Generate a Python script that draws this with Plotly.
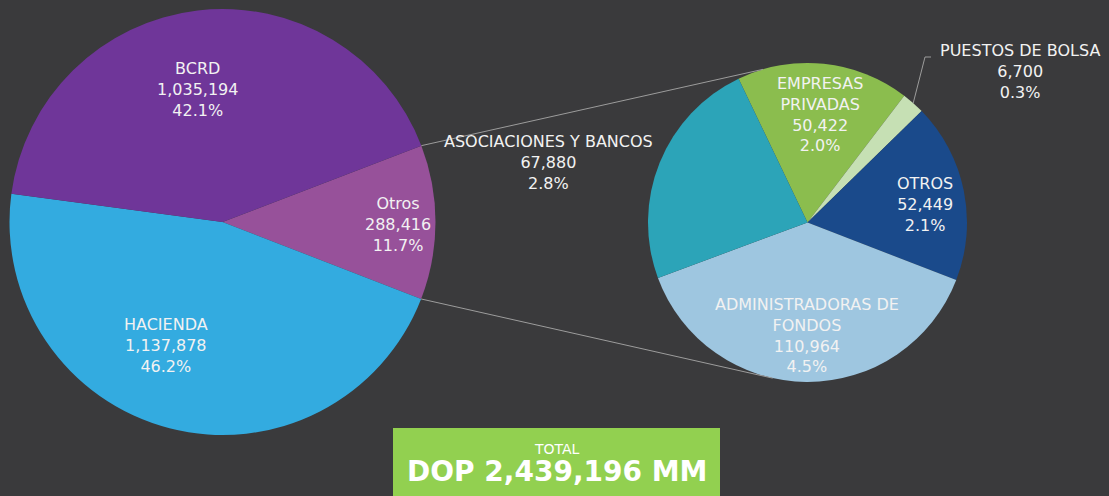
import math
import plotly.graph_objects as go

W, H = 1109, 496

# ---------------- data ----------------
left_labels = ["Otros", "HACIENDA", "BCRD"]
left_values = [288416, 1137878, 1035194]
left_pcts = ["11.7%", "46.2%", "42.1%"]

right_labels = ["EMPRESAS<br>PRIVADAS", "PUESTOS DE BOLSA", "OTROS",
                "ADMINISTRADORAS DE<br>FONDOS", "ASOCIACIONES Y BANCOS"]
right_values = [50422, 6700, 52449, 110964, 67880]
right_pcts = ["2.0%", "0.3%", "2.1%", "4.5%", "2.8%"]

total_label = "TOTAL"
total_text = "DOP 2,439,196 MM"

# ---------------- styles ----------------
BG = "#3A3A3C"
left_colors = ["#97519A", "#33ABE0", "#6F3699"]
right_colors = ["#8BBD4E", "#C6E0B4", "#1A4A8B", "#9EC6E0", "#2CA4B8"]
FONT = "DejaVu Sans"
LINE_COL = "#9C9C9C"

# pie geometry in pixels (centre x, centre y from top, radius)
L_cx, L_cy, L_r = 222.5, 222.0, 213.0
R_cx, R_cy, R_r = 807.5, 222.5, 159.5
L_rot, R_rot = 69, -25.6

# label block centres in pixels
left_label_pos = [(398, 224), (166, 345), (197, 89.5)]
right_label_pos = [(820, 114), (1020, 71), (925, 204), (807, 335.5), (548, 162)]


def px(x):
    return x / W


def py(y):
    return 1 - y / H


def dom(cx, cy, r):
    return dict(x=[px(cx - r), px(cx + r)], y=[py(cy + r), py(cy - r)])


fig = go.Figure()
fig.add_trace(go.Pie(
    labels=left_labels, values=left_values, sort=False, direction="clockwise",
    rotation=L_rot, marker=dict(colors=left_colors, line=dict(width=0)),
    textinfo="none", hoverinfo="label+value", domain=dom(L_cx, L_cy, L_r),
    showlegend=False,
))
fig.add_trace(go.Pie(
    labels=right_labels, values=right_values, sort=False, direction="clockwise",
    rotation=R_rot, marker=dict(colors=right_colors, line=dict(width=0)),
    textinfo="none", hoverinfo="label+value", domain=dom(R_cx, R_cy, R_r),
    showlegend=False,
))

annotations = []
for lab, val, pct, (x, y) in zip(left_labels, left_values, left_pcts, left_label_pos):
    annotations.append(dict(
        x=px(x), y=py(y), xref="paper", yref="paper", showarrow=False,
        text=f"{lab}<br>{val:,}<br>{pct}", align="center",
        xanchor="center", yanchor="middle",
        font=dict(family=FONT, size=16, color="#F2F2F2"),
    ))
for lab, val, pct, (x, y) in zip(right_labels, right_values, right_pcts, right_label_pos):
    annotations.append(dict(
        x=px(x), y=py(y), xref="paper", yref="paper", showarrow=False,
        text=f"{lab}<br>{val:,}<br>{pct}", align="center",
        xanchor="center", yanchor="middle",
        font=dict(family=FONT, size=16, color="#F2F2F2"),
    ))

# connector lines from the left "Otros" slice to the right pie
tot_left = sum(left_values)
a1 = math.radians(90 - L_rot)
a2 = a1 - 2 * math.pi * left_values[0] / tot_left
p1 = (L_cx + L_r * math.cos(a1), L_cy - L_r * math.sin(a1))
p2 = (L_cx + L_r * math.cos(a2), L_cy - L_r * math.sin(a2))
b1, b2 = math.radians(106.2), math.radians(-102.6)
q1 = (R_cx + R_r * math.cos(b1), R_cy - R_r * math.sin(b1))
q2 = (R_cx + R_r * math.cos(b2), R_cy - R_r * math.sin(b2))

shapes = []
for (sa, sb) in [(p1, q1), (p2, q2)]:
    shapes.append(dict(type="line", xref="paper", yref="paper",
                       x0=px(sa[0]), y0=py(sa[1]), x1=px(sb[0]), y1=py(sb[1]),
                       line=dict(color=LINE_COL, width=1), layer="above"))

# leader line for PUESTOS DE BOLSA
tot_right = sum(right_values)
start = math.radians(90 - R_rot)
mid = start - 2 * math.pi * (right_values[0] + right_values[1] / 2) / tot_right
e = (R_cx + R_r * math.cos(mid), R_cy - R_r * math.sin(mid))
path = (f"M {px(e[0])} {py(e[1])} L {px(925)} {py(57)} L {px(931)} {py(57)}")
shapes.append(dict(type="path", xref="paper", yref="paper", path=path,
                   line=dict(color=LINE_COL, width=1), layer="above"))

# total box
shapes.append(dict(type="rect", xref="paper", yref="paper",
                   x0=px(393), x1=px(720), y0=py(505), y1=py(428),
                   fillcolor="#92D050", line=dict(width=0), layer="above"))
annotations.append(dict(x=px(556.5), y=py(449), xref="paper", yref="paper",
                        showarrow=False, text=total_label,
                        xanchor="center", yanchor="middle",
                        font=dict(family=FONT, size=14, color="#FFFFFF")))
annotations.append(dict(x=px(556.5), y=py(471.5), xref="paper", yref="paper",
                        showarrow=False, text=f"<b>{total_text}</b>",
                        xanchor="center", yanchor="middle",
                        font=dict(family=FONT, size=28, color="#FFFFFF")))

fig.update_layout(
    width=W, height=H, margin=dict(l=0, r=0, t=0, b=0),
    paper_bgcolor=BG, plot_bgcolor=BG,
    annotations=annotations, shapes=shapes, showlegend=False,
)

fig.write_html(
    "out.html",
    config={"displayModeBar": False},
    post_script="document.body.style.margin='0';document.body.style.overflow='hidden';document.body.style.background='#3A3A3C';",
)
